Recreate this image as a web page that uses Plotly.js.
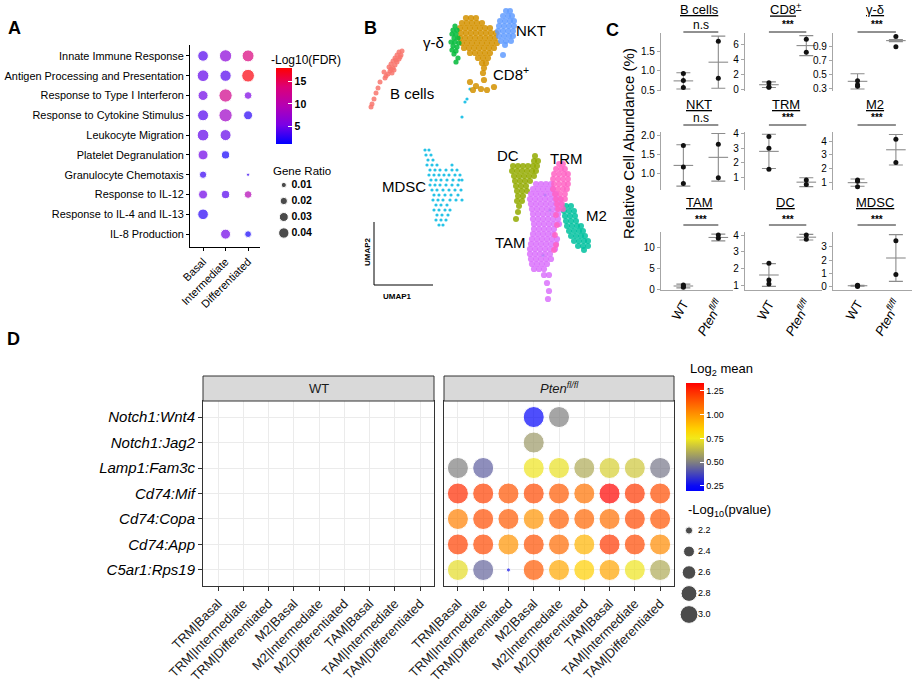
<!DOCTYPE html>
<html><head><meta charset="utf-8">
<script src="https://cdn.plot.ly/plotly-3.0.1.min.js"></script>
<style>body{margin:0;background:#fff}#chart{width:919px;height:688px}</style>
</head><body><div id="chart"></div>
<script>
// ================= Panel A data =================
const goTerms = ["Innate Immune Response","Antigen Processing and Presentation","Response to Type I Interferon","Response to Cytokine Stimulus","Leukocyte Migration","Platelet Degranulation","Granulocyte Chemotaxis","Response to IL-12","Response to IL-4 and IL-13","IL-8 Production"];
const stages = ["Basal","Intermediate","Differentiated"];
const geneRatioBasal = [0.042,0.051,0.037,0.045,0.051,0.037,0.020,0.030,0.042,null];
const geneRatioIntermediate = [0.056,0.047,0.065,0.065,0.045,0.025,null,0.025,null,0.037];
const geneRatioDifferentiated = [0.053,0.060,0.022,0.030,null,null,0.004,0.022,null,0.017];
const fdrBasal = [4.0,4.5,5.0,4.0,4.5,5.0,3.0,5.0,2.5,null];
const fdrIntermediate = [6.5,4.0,12.5,8.0,4.5,1.8,null,4.0,null,5.0];
const fdrDifferentiated = [13.5,17.5,5.5,2.5,null,null,3.0,9.5,null,1.8];
const geneRatioLegend = [0.01,0.02,0.03,0.04];
const fdrTicks = [5,10,15];

// ================= Panel B data (UMAP1, UMAP2) =================
const umapBcells = [[-8.1,10.8],[-7.9,10.5],[-8.3,10.5],[-8.5,10.2],[-8.1,10.1],[-8.7,9.9],[-8.3,9.8],[-8.9,9.6],[-8.5,9.5],[-9.1,9.3],[-8.7,9.2],[-9.0,8.9],[-9.2,8.6],[-8.8,8.7],[-9.4,8.4],[-9.6,8.8],[-9.5,8.2],[-8.0,10.3],[-8.6,9.0],[-8.4,10.0],[-8.9,9.1],[-7.8,10.9],[-10.0,7.8],[-10.2,7.2],[-10.4,6.7],[-10.6,6.1],[-10.8,5.6],[-10.9,5.3]];
const umapGD = [[-2.5,13.4],[-2.7,13.0],[-2.3,13.0],[-2.8,12.6],[-2.4,12.6],[-2.6,12.2],[-2.2,12.2],[-2.9,11.8],[-2.5,11.8],[-2.1,11.7],[-2.7,11.4],[-2.3,11.3],[-2.8,11.0],[-2.4,10.9],[-2.6,10.6],[-2.2,10.2],[-2.4,9.8]];
const umapCD8 = [[-1.4,14.2],[-0.9,14.2],[-0.4,14.2],
 [-1.8,13.7],[-1.3,13.7],[-0.8,13.7],[-0.3,13.7],[0.2,13.7],
 [-2.0,13.2],[-1.5,13.2],[-1.0,13.2],[-0.5,13.2],[0,13.2],[0.5,13.2],[1.0,13.2],
 [-1.9,12.7],[-1.4,12.7],[-0.9,12.7],[-0.4,12.7],[0.1,12.7],[0.6,12.7],[1.1,12.7],[1.6,12.7],
 [-2.0,12.2],[-1.5,12.2],[-1.0,12.2],[-0.5,12.2],[0,12.2],[0.5,12.2],[1.0,12.2],[1.5,12.2],
 [-1.8,11.7],[-1.3,11.7],[-0.8,11.7],[-0.3,11.7],[0.2,11.7],[0.7,11.7],[1.2,11.7],[1.7,11.7],
 [-1.6,11.2],[-1.1,11.2],[-0.6,11.2],[-0.1,11.2],[0.4,11.2],[0.9,11.2],[1.4,11.2],
 [-1.0,10.7],[-0.5,10.7],[0,10.7],[0.5,10.7],[1.0,10.7],
 [-0.2,10.2],[0.3,10.2],[0.8,10.2],[0.2,9.7],[0.6,9.7],[0.4,9.2],[0.3,8.7],
 [-1.0,7.8],[-0.4,7.4],[0.1,7.1],[0.7,7.0],[1.4,7.3],[0.4,8.0],[-0.7,7.0]];
const umapNKT = [[2.6,14.9],[3.0,14.9],[2.3,14.4],[2.8,14.4],[3.2,14.4],[2.0,13.9],[2.5,13.9],[3.0,13.9],[3.4,13.9],[1.9,13.4],[2.4,13.4],[2.9,13.4],[3.4,13.4],[1.8,12.9],[2.3,12.9],[2.8,12.9],[3.3,12.9],[1.9,12.4],[2.4,12.4],[2.9,12.4],[3.3,12.4],[2.1,11.9],[2.6,11.9],[3.1,11.9],[2.5,11.5],[2.3,10.5]];
const umapMDSC = [[-5.5,1.0],[-5.1,1.0],[-5.4,0.5],[-4.9,0.5],[-5.2,0],[-4.7,0],
 [-5.3,-0.5],[-4.8,-0.5],[-4.3,-0.5],[-2.8,-0.5],
 [-5.0,-1.0],[-4.5,-1.0],[-4.0,-1.0],[-3.4,-1.0],[-2.8,-1.0],[-2.3,-1.0],
 [-5.1,-1.5],[-4.6,-1.5],[-4.1,-1.5],[-3.6,-1.5],[-3.1,-1.5],[-2.5,-1.5],[-2.0,-1.5],
 [-4.9,-2.0],[-4.4,-2.0],[-3.9,-2.0],[-3.3,-2.0],[-2.7,-2.0],[-2.1,-2.0],[-1.8,-2.0],
 [-5.0,-2.5],[-4.5,-2.5],[-4.0,-2.5],[-3.4,-2.5],[-2.8,-2.5],[-2.2,-2.5],
 [-4.8,-3.0],[-4.3,-3.0],[-3.7,-3.0],[-3.1,-3.0],[-2.5,-3.0],[-1.9,-3.0],
 [-4.6,-3.5],[-4.1,-3.5],[-3.5,-3.5],[-2.9,-3.5],[-2.2,-3.5],
 [-4.7,-4.0],[-4.2,-4.0],[-3.7,-4.0],[-3.0,-4.0],[-2.4,-4.0],[-1.8,-4.0],
 [-4.4,-4.5],[-3.9,-4.5],[-3.3,-4.5],[-4.6,-5.0],[-4.1,-5.0],[-3.5,-5.0],[-3.0,-5.0],
 [-4.3,-5.5],[-3.8,-5.5],[-3.2,-5.5],[-4.4,-6.0],[-3.9,-6.0],[-3.4,-6.0],[-4.1,-6.5],[-3.7,-6.5],
 [-1.0,7.1],[-1.3,6.1],[-1.5,5.8],[-1.8,4.3],[6.5,-3.5],[7.0,-5.0],[6.3,-9.5]];
const umapDC = [[5.5,0.4],[5.4,-0.1],[5.8,-0.1],
 [3.3,-0.6],[3.8,-0.6],[4.3,-0.6],[4.8,-0.6],[5.3,-0.6],[5.7,-0.6],
 [3.2,-1.1],[3.7,-1.1],[4.2,-1.1],[4.7,-1.1],[5.2,-1.1],[5.6,-1.1],
 [3.4,-1.6],[3.9,-1.6],[4.4,-1.6],[4.9,-1.6],[5.4,-1.6],
 [3.5,-2.1],[4.0,-2.1],[4.5,-2.1],[5.0,-2.1],
 [3.6,-2.6],[4.1,-2.6],[4.6,-2.6],[3.7,-3.1],[4.2,-3.1],[4.7,-3.1],
 [3.8,-3.6],[4.3,-3.6],[3.7,-4.1],[4.2,-4.1],[3.9,-4.6],[3.8,-5.2],[3.6,-5.9]];
const umapTAM = [[5.6,-2.4],[6.1,-2.4],[6.6,-2.4],[7.1,-2.4],
 [5.3,-2.9],[5.8,-2.9],[6.3,-2.9],[6.8,-2.9],[7.3,-2.9],
 [5.1,-3.4],[5.6,-3.4],[6.1,-3.4],[6.6,-3.4],[7.1,-3.4],[7.6,-3.4],
 [5.0,-3.9],[5.5,-3.9],[6.0,-3.9],[6.5,-3.9],[7.0,-3.9],[7.5,-3.9],[8.0,-3.9],
 [5.1,-4.4],[5.6,-4.4],[6.1,-4.4],[6.6,-4.4],[7.1,-4.4],[7.6,-4.4],[8.1,-4.4],
 [5.2,-4.9],[5.7,-4.9],[6.2,-4.9],[6.7,-4.9],[7.2,-4.9],[7.7,-4.9],[8.2,-4.9],
 [5.3,-5.4],[5.8,-5.4],[6.3,-5.4],[6.8,-5.4],[7.3,-5.4],[7.8,-5.4],
 [5.3,-5.9],[5.8,-5.9],[6.3,-5.9],[6.8,-5.9],[7.3,-5.9],[7.8,-5.9],
 [5.4,-6.4],[5.9,-6.4],[6.4,-6.4],[6.9,-6.4],[7.4,-6.4],[7.9,-6.4],
 [5.4,-6.9],[5.9,-6.9],[6.4,-6.9],[6.9,-6.9],[7.4,-6.9],
 [5.3,-7.4],[5.8,-7.4],[6.3,-7.4],[6.8,-7.4],[7.3,-7.4],
 [5.2,-7.9],[5.7,-7.9],[6.2,-7.9],[6.7,-7.9],[7.2,-7.9],[7.7,-7.9],
 [5.1,-8.4],[5.6,-8.4],[6.1,-8.4],[6.6,-8.4],[7.1,-8.4],[7.6,-8.4],
 [5.0,-8.9],[5.5,-8.9],[6.0,-8.9],[6.5,-8.9],[7.0,-8.9],[7.5,-8.9],
 [5.0,-9.4],[5.5,-9.4],[6.0,-9.4],[6.5,-9.4],[7.0,-9.4],
 [5.1,-9.9],[5.6,-9.9],[6.1,-9.9],[6.6,-9.9],[7.1,-9.9],
 [5.2,-10.4],[5.7,-10.4],[6.2,-10.4],[6.7,-10.4],
 [5.4,-10.9],[5.9,-10.9],[6.4,-10.9],[6.4,-11.5],[6.9,-11.5],[6.7,-12.3],[6.9,-13.1],[6.8,-13.9]];
const umapTRM = [[7.9,-0.4],[8.3,-0.4],[7.6,-0.9],[8.1,-0.9],[8.5,-0.9],
 [7.4,-1.4],[7.9,-1.4],[8.4,-1.4],[8.8,-1.4],[7.3,-1.9],[7.8,-1.9],[8.3,-1.9],[8.8,-1.9],
 [7.4,-2.4],[7.9,-2.4],[8.4,-2.4],[8.8,-2.4],[7.3,-2.9],[7.8,-2.9],[8.3,-2.9],[8.7,-2.9],
 [7.5,-3.4],[8.0,-3.4],[8.5,-3.4],[7.6,-3.9],[8.1,-3.9],[8.5,-3.9],
 [7.7,-4.4],[8.2,-4.4],[7.8,-4.9],[8.3,-4.9],[7.6,-5.5],[7.7,-6.5],[7.5,-7.5],[7.6,-8.5],[7.4,-9.0]];
const umapM2 = [[8.6,-4.6],[9.1,-4.6],[8.4,-5.1],[8.9,-5.1],[9.4,-5.1],[8.5,-5.6],[9.0,-5.6],[9.5,-5.6],
 [8.6,-6.1],[9.1,-6.1],[9.6,-6.1],[8.7,-6.6],[9.2,-6.6],[9.7,-6.6],[10.1,-6.6],
 [8.9,-7.1],[9.4,-7.1],[9.9,-7.1],[10.3,-7.1],[9.1,-7.6],[9.6,-7.6],[10.1,-7.6],[10.5,-7.6],
 [9.4,-8.1],[9.9,-8.1],[10.4,-8.1],[10.8,-8.1],[9.8,-8.6],[10.3,-8.6],[10.8,-8.6],[10.4,-9.0]];

// ================= Panel C data =================
const cellTypes = ["B cells","CD8<sup>+</sup>","γ-δ","NKT","TRM","M2","TAM","DC","MDSC"];
const sigLabels = ["n.s","***","***","n.s","***","***","***","***","***"];
const genotypes = ["WT","<i>Pten<sup>fl/fl</sup></i>"];
const abundanceWT = [[0.93,0.75,0.57],[0.9,0.27,0.3],[0.35,0.41,0.33],[1.73,1.17,0.74],[3.78,3.0,1.57],[1.19,0.71,1.1],[0.5,0.8,1.0],[2.3,1.3,1.06],[0.02,0.08,0.1]];
const abundancePten = [[1.76,0.81],[6.77,5.0],[1.05,0.9],[1.76,0.89],[0.85,0.55],[4.12,2.46],[12.9,12.1],[4.0,3.74],[3.45,0.92]];
const meanWT = [0.74,0.62,0.40,1.21,2.78,1.0,0.78,1.6,0.07];
const sdWT = [0.21,0.38,0.11,0.54,1.16,0.26,0.45,0.68,0.04];
const meanPten = [1.22,5.9,0.99,1.42,0.7,3.37,12.3,3.87,2.15];
const sdPten = [0.67,1.35,0.015,0.62,0.3,1.1,0.8,0.17,1.75];
const cTickVals = [[0.5,1.0,1.5],[0,2,4,6],[0.3,0.5,0.7,0.9],[1.0,1.5,2.0],[1,2,3,4],[1,2,3,4],[0,5,10],[1,2,3,4],[0,1,2,3]];
const cTickText = [["0.5","1.0","1.5"],["0","2","4","6"],["0.3","0.5","0.7","0.9"],["1.0","1.5","2.0"],["1","2","3","4"],["1","2","3","4"],["0","5","10"],["1","2","3","4"],["0","1","2","3"]];

// ================= Panel D data =================
const lrPairs = ["Notch1:Wnt4","Notch1:Jag2","Lamp1:Fam3c","Cd74:Mif","Cd74:Copa","Cd74:App","C5ar1:Rps19"];
const cellGroups = ["TRM|Basal","TRM|Intermediate","TRM|Differentiated","M2|Basal","M2|Intermediate","M2|Differentiated","TAM|Basal","TAM|Intermediate","TAM|Differentiated"];
const log2MeanPten = [
 [null,null,null,0.22,0.50,null,null,null,null],
 [null,null,null,0.56,null,null,null,null,null],
 [0.50,0.43,null,0.74,0.73,0.60,0.69,0.67,0.48],
 [1.25,1.20,1.15,1.18,1.14,1.08,1.33,1.22,1.17],
 [1.05,1.17,1.14,1.00,1.13,1.11,1.09,1.18,1.15],
 [1.20,1.18,1.00,1.16,1.10,0.92,1.22,1.18,1.02],
 [0.72,0.44,0.27,1.14,0.95,0.85,0.96,0.74,0.60]];
const negLog10PPten = [
 [null,null,null,3.38,3.38,null,null,null,null],
 [null,null,null,3.38,null,null,null,null,null],
 [3.38,3.38,null,3.38,3.38,3.38,3.38,3.38,3.38],
 [3.38,3.38,3.38,3.38,3.38,3.38,3.38,3.38,3.38],
 [3.38,3.38,3.38,3.38,3.38,3.38,3.38,3.38,3.38],
 [3.38,3.38,3.38,3.38,3.38,3.38,3.38,3.38,3.38],
 [3.38,3.38,2.09,3.38,3.38,3.38,3.38,3.38,3.38]];
const log2Ticks = [0.25,0.50,0.75,1.00,1.25];
const pvalLegend = [2.2,2.4,2.6,2.8,3.0];

// ================= helpers =================
const W = 919, H = 688;
const X = px => px / W;
const Y = py => 1 - py / H;
const FONT = "Arial, 'Liberation Sans', sans-serif";
const ratioSize = r => 52 * Math.sqrt(r);
const pSize = v => Math.sqrt(Math.max(12, 53 + (v - 2.2) * 330));

const traces = [];
const annotations = [];
const shapes = [];
const layout = {
  width: W, height: H, margin: {l:0,r:0,t:0,b:0},
  paper_bgcolor: '#fff', plot_bgcolor: 'rgba(0,0,0,0)',
  showlegend: false, font: {family: FONT, color: '#000'},
  annotations, shapes
};
function note(o) { annotations.push(Object.assign({showarrow:false, xanchor:'center', yanchor:'middle'}, o)); }

// ---------- Panel A ----------
{
  const ratios = [geneRatioBasal, geneRatioIntermediate, geneRatioDifferentiated];
  const fdrs = [fdrBasal, fdrIntermediate, fdrDifferentiated];
  const xs = [], ys = [], ss = [], cs = [];
  ratios.forEach((arr, s) => arr.forEach((r, i) => {
    if (r !== null) { xs.push(s); ys.push(i); ss.push(ratioSize(r)); cs.push(fdrs[s][i]); }
  }));
  traces.push({type:'scatter', mode:'markers', x: xs, y: ys, xaxis:'x', yaxis:'y', hoverinfo:'skip',
    marker:{size: ss, color: cs, cmin: 1.2, cmax: 17.9,
      colorscale: [[0,'#0000FF'],[0.25,'#7A00E6'],[0.5,'#B400B4'],[0.75,'#DC0078'],[1,'#FF0000']],
      showscale: true,
      colorbar: {x: X(276), xanchor:'left', y: Y(68), yanchor:'top', len: 76, lenmode:'pixels',
        thickness: 16, xpad: 0, ypad: 0, outlinewidth: 0, ticks:'inside', ticklen: 4, tickcolor:'#fff',
        tickvals: fdrTicks, tickfont:{size:10.5, family: FONT, weight:'bold'}}
    }});
  layout.xaxis = {domain:[X(190), X(260)], range:[-0.58, 2.53], anchor:'y', tickvals:[0,1,2], ticktext: stages,
    tickangle:-45, tickfont:{size:11}, showline:true, linecolor:'#000', linewidth:1, ticks:'outside', ticklen:3,
    tickcolor:'#000', showgrid:false, zeroline:false};
  layout.yaxis = {domain:[Y(247), Y(45)], range:[9.65, -0.55], anchor:'x', tickvals: goTerms.map((_,i)=>i), ticktext: goTerms,
    tickfont:{size:10.9}, showline:true, linecolor:'#000', linewidth:1, ticks:'outside', ticklen:3, tickcolor:'#000',
    showgrid:false, zeroline:false};
  // size legend
  traces.push({type:'scatter', mode:'markers', x: geneRatioLegend.map(()=>0.16), y: geneRatioLegend.map((_,i)=>i),
    xaxis:'x2', yaxis:'y2', hoverinfo:'skip', marker:{size: geneRatioLegend.map(ratioSize), color:'#000'}});
  traces.push({type:'scatter', mode:'text', x: geneRatioLegend.map(()=>0.3), y: geneRatioLegend.map((_,i)=>i),
    text: geneRatioLegend.map(v=>v.toFixed(2)), textposition:'middle right', xaxis:'x2', yaxis:'y2', hoverinfo:'skip',
    textfont:{size:10.5, color:'#000', weight:'bold'}});
  layout.xaxis2 = {domain:[X(275), X(330)], range:[0,1], anchor:'y2', visible:false};
  layout.yaxis2 = {domain:[Y(241), Y(177)], range:[3.5,-0.5], anchor:'x2', visible:false};
  note({xref:'paper', yref:'paper', x:X(269), y:Y(60), text:'-Log10(FDR)', xanchor:'left', font:{size:12}});
  note({xref:'paper', yref:'paper', x:X(271), y:Y(170.5), text:'Gene Ratio', xanchor:'left', font:{size:11.5}});
  note({xref:'paper', yref:'paper', x:X(6), y:Y(28), text:'<b>A</b>', xanchor:'left', font:{size:18}});
}

// ---------- Panel B ----------
{
  const clusters = [
    {pts: umapMDSC, color:'#00B9E3', size:3.2},
    {pts: umapBcells, color:'#F8766D', size:5},
    {pts: umapDC, color:'#93AA00', size:6},
    {pts: umapTAM, color:'#DB72FB', size:6.2},
    {pts: umapM2, color:'#00C19F', size:6},
    {pts: umapTRM, color:'#FF61C3', size:5.8},
    {pts: umapCD8, color:'#D39200', size:6.2},
    {pts: umapGD, color:'#00BA38', size:5.2},
    {pts: umapNKT, color:'#619CFF', size:6}
  ];
  clusters.forEach(c => traces.push({type:'scatter', mode:'markers', x: c.pts.map(p=>p[0]), y: c.pts.map(p=>p[1]),
    xaxis:'x3', yaxis:'y3', hoverinfo:'skip', marker:{size:c.size, color:c.color, opacity:0.85}}));
  layout.xaxis3 = {domain:[X(360), X(600)], range:[-12,12], anchor:'y3', visible:false};
  layout.yaxis3 = {domain:[Y(310), Y(0)], range:[-15,16], anchor:'x3', visible:false};
  const labs = [["B cells",-6.8,6.7],["γ-δ",-4.7,11.8],["NKT",5.1,13.0],["CD8<sup>+</sup>",3.1,8.7],["MDSC",-7.6,-2.6],
                ["DC",2.8,0.5],["TRM",8.6,0.2],["TAM",3.0,-8.2],["M2",11.6,-5.5]];
  labs.forEach(l => note({xref:'x3', yref:'y3', x:l[1], y:l[2], text:l[0], font:{size:15}}));
  shapes.push({type:'line', xref:'paper', yref:'paper', x0:X(374), x1:X(374), y0:Y(222), y1:Y(285), line:{color:'#000', width:1}});
  shapes.push({type:'line', xref:'paper', yref:'paper', x0:X(374), x1:X(433), y0:Y(285), y1:Y(285), line:{color:'#000', width:1}});
  note({xref:'paper', yref:'paper', x:X(367), y:Y(252), text:'<b>UMAP2</b>', textangle:-90, font:{size:8}});
  note({xref:'paper', yref:'paper', x:X(397), y:Y(296), text:'<b>UMAP1</b>', font:{size:8}});
  note({xref:'paper', yref:'paper', x:X(362), y:Y(28), text:'<b>B</b>', xanchor:'left', font:{size:18}});
}

// ---------- Panel C ----------
{
  const colDom = [[661,733],[745,822],[833,912]];
  const rowDom = [[33,91],[132,190],[232,290]];
  const yRanges = [[0.48,1.97],[-0.23,7.6],[0.26,1.1],[0.57,2.08],[0.17,4.09],[0.47,4.65],[-0.17,13.6],[0.7,4.18],[-0.25,4.1]];
  const titleY = [9,104.5,203], sigY = [25,118,219], lineY = [32,125,225];
  const grey = '#8c8c8c';
  cellTypes.forEach((ct, k) => {
    const r = Math.floor(k/3), c = k % 3, n = 4 + k;
    const xa = 'x'+n, ya = 'y'+n;
    traces.push({type:'scatter', mode:'markers', x:[1,2], y:[meanWT[k], meanPten[k]], xaxis:xa, yaxis:ya, hoverinfo:'skip',
      error_y:{type:'data', array:[sdWT[k], sdPten[k]], color:grey, thickness:1.1, width:7},
      marker:{symbol:'line-ew', size:14, color:grey, line:{width:1.1, color:grey}}});
    const xs = abundanceWT[k].map(()=>1).concat(abundancePten[k].map(()=>2));
    const ys = abundanceWT[k].concat(abundancePten[k]);
    traces.push({type:'scatter', mode:'markers', x:xs, y:ys, xaxis:xa, yaxis:ya, hoverinfo:'skip',
      marker:{size:5, color:'#111'}});
    layout['xaxis'+n] = {domain:[X(colDom[c][0]), X(colDom[c][1])], range:[0.36,2.42], anchor:ya,
      tickvals:[1,2], ticktext: genotypes, showticklabels: r === 2, tickangle:-60, tickfont:{size:13},
      showline: r === 2, linecolor:'#a6a6a6', linewidth:1.2, ticks:'', showgrid:false, zeroline:false};
    layout['yaxis'+n] = {domain:[Y(rowDom[r][1]), Y(rowDom[r][0])], range:yRanges[k], anchor:xa,
      tickvals:cTickVals[k], ticktext:cTickText[k], tickfont:{size:10}, showline:true, linecolor:'#a6a6a6', linewidth:1.2,
      ticks:'outside', ticklen:3, tickcolor:'#a6a6a6', showgrid:false, zeroline:false};
    note({xref:xa, yref:'paper', x:1.45, y:Y(titleY[r]), text:'<u>'+ct+'</u>', font:{size:13}});
    note({xref:xa, yref:'paper', x:1.5, y:Y(sigY[r]), text: sigLabels[k] === '***' ? '<b>***</b>' : sigLabels[k],
      font:{size: sigLabels[k] === '***' ? 10 : 12}});
    shapes.push({type:'line', xref:xa, yref:'paper', x0:1, x1:2, y0:Y(lineY[r]), y1:Y(lineY[r]), line:{color:'#222', width:1}});
  });
  note({xref:'paper', yref:'paper', x:X(628), y:Y(144), text:'Relative Cell Abundance (%)', textangle:-90, font:{size:15}});
  note({xref:'paper', yref:'paper', x:X(604), y:Y(30), text:'<b>C</b>', xanchor:'left', font:{size:18}});
}

// ---------- Panel D ----------
{
  const xs = [], ys = [], cs = [], ss = [];
  log2MeanPten.forEach((row, i) => row.forEach((v, j) => {
    if (v !== null) { xs.push(j); ys.push(i); cs.push(v); ss.push(pSize(negLog10PPten[i][j])); }
  }));
  traces.push({type:'scatter', mode:'markers', x:[null], y:[null], xaxis:'x13', yaxis:'y13', hoverinfo:'skip'});
  traces.push({type:'scatter', mode:'markers', x:xs, y:ys, xaxis:'x14', yaxis:'y14', hoverinfo:'skip',
    marker:{size:ss, color:cs, cmin:0.197, cmax:1.334,
      colorscale:[[0,'#0000FF'],[0.047,'#0A0AF5'],[0.266,'#808080'],[0.486,'#F2E81A'],[0.574,'#FFD000'],[0.706,'#FF9400'],[0.926,'#FF2A00'],[1,'#FF0000']],
      showscale:true,
      colorbar:{x:X(686), xanchor:'left', y:Y(383), yanchor:'top', len:108, lenmode:'pixels', thickness:18,
        xpad:0, ypad:0, outlinewidth:0, ticks:'inside', ticklen:4, tickcolor:'#fff',
        tickvals:log2Ticks, ticktext:log2Ticks.map(v=>v.toFixed(2)), tickfont:{size:9, family: FONT}}}});
  const xBase = {tickvals: cellGroups.map((_,i)=>i), ticktext: cellGroups, tickangle:-45, tickfont:{size:13, color:'#1a1a1a'},
    showline:true, mirror:true, linecolor:'#333', linewidth:1, ticks:'outside', ticklen:4, tickcolor:'#333',
    showgrid:true, gridcolor:'#EBEBEB', gridwidth:1, zeroline:false};
  const yBase = {tickvals: lrPairs.map((_,i)=>i), ticktext: lrPairs.map(s=>'<i>'+s+'</i>'), tickfont:{size:15, color:'#000'},
    range:[6.63,-0.63], domain:[Y(586), Y(401)], showline:true, mirror:true, linecolor:'#333', linewidth:1,
    ticks:'outside', ticklen:4, tickcolor:'#333', showgrid:true, gridcolor:'#EBEBEB', gridwidth:1, zeroline:false};
  layout.xaxis13 = Object.assign({}, xBase, {domain:[X(203), X(434)], range:[-0.6, 8.55], anchor:'y13'});
  layout.yaxis13 = Object.assign({}, yBase, {anchor:'x13'});
  layout.xaxis14 = Object.assign({}, xBase, {domain:[X(444), X(674)], range:[-0.55, 8.55], anchor:'y14'});
  layout.yaxis14 = Object.assign({}, yBase, {anchor:'x14', showticklabels:false, ticks:''});
  shapes.push({type:'rect', xref:'paper', yref:'paper', x0:X(203), x1:X(434), y0:Y(401), y1:Y(376), fillcolor:'#D9D9D9', line:{color:'#333', width:1}});
  shapes.push({type:'rect', xref:'paper', yref:'paper', x0:X(444), x1:X(674), y0:Y(401), y1:Y(376), fillcolor:'#D9D9D9', line:{color:'#333', width:1}});
  note({xref:'paper', yref:'paper', x:X(318.5), y:Y(388.5), text:'WT', font:{size:13, color:'#1a1a1a'}});
  note({xref:'paper', yref:'paper', x:X(559), y:Y(388.5), text:'<i>Pten<sup>fl/fl</sup></i>', font:{size:13, color:'#1a1a1a'}});
  // size legend
  traces.push({type:'scatter', mode:'markers', x:pvalLegend.map(()=>0.15), y:pvalLegend.map((_,i)=>i), xaxis:'x15', yaxis:'y15',
    hoverinfo:'skip', marker:{size:pvalLegend.map(pSize), color:'#000'}});
  traces.push({type:'scatter', mode:'text', x:pvalLegend.map(()=>0.3), y:pvalLegend.map((_,i)=>i), xaxis:'x15', yaxis:'y15',
    text:pvalLegend.map(v=>v.toFixed(1)), textposition:'middle right', hoverinfo:'skip', textfont:{size:9, color:'#000'}});
  layout.xaxis15 = {domain:[X(680), X(740)], range:[0,1], anchor:'y15', visible:false};
  layout.yaxis15 = {domain:[Y(625), Y(520)], range:[4.5,-0.5], anchor:'x15', visible:false};
  note({xref:'paper', yref:'paper', x:X(688), y:Y(370), text:'Log<sub>2</sub> mean', xanchor:'left', font:{size:13}});
  note({xref:'paper', yref:'paper', x:X(686), y:Y(510), text:'-Log<sub>10</sub>(pvalue)', xanchor:'left', font:{size:13}});
  note({xref:'paper', yref:'paper', x:X(5), y:Y(339), text:'<b>D</b>', xanchor:'left', font:{size:18}});
}

Plotly.newPlot('chart', traces, layout, {staticPlot:true, displayModeBar:false});
</script>
</body></html>
